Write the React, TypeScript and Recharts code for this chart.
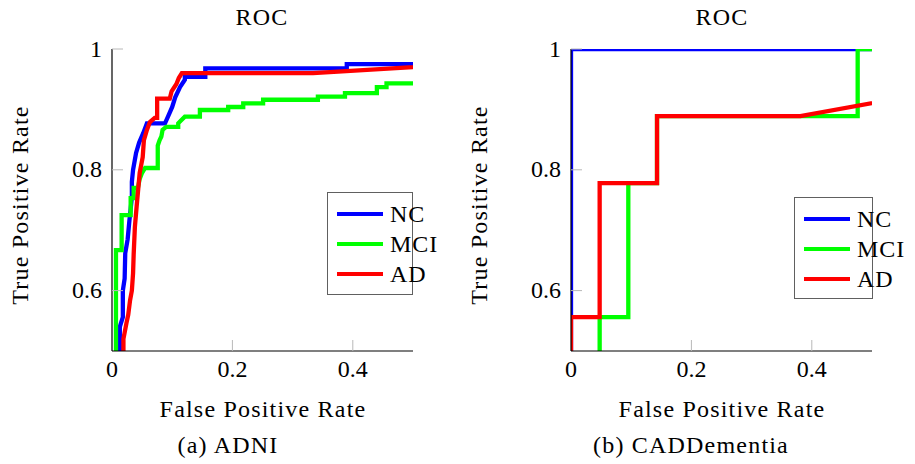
import React from 'react';
import { LineChart, Line, XAxis, YAxis, Legend } from 'recharts';

type Pt = { x: number; y: number };
const toPts = (a: number[][]): Pt[] => a.map(([x, y]) => ({ x, y }));

const seriesNames = ['NC', 'MCI', 'AD'];
const seriesColors = ['#0000ff', '#00ff00', '#ff0000'];
const xTicks = [0, 0.2, 0.4];
const yTicks = [0.6, 0.8, 1];
const chartTitles = ['ROC', 'ROC'];
const captions = ['(a) ADNI', '(b) CADDementia'];
const xLabel = 'False Positive Rate';
const yLabel = 'True Positive Rate';

// ADNI (fpr, tpr)
const adniNC = [
  [0.013, 0.4], [0.013, 0.54], [0.018, 0.556], [0.018, 0.6], [0.021, 0.62], [0.022, 0.662],
  [0.026, 0.685], [0.029, 0.717], [0.031, 0.735], [0.033, 0.755], [0.033, 0.78], [0.035, 0.8],
  [0.04, 0.828], [0.045, 0.845], [0.052, 0.861], [0.058, 0.877], [0.088, 0.877], [0.093, 0.888],
  [0.1, 0.904], [0.105, 0.92], [0.113, 0.937], [0.121, 0.949], [0.121, 0.954], [0.155, 0.954],
  [0.155, 0.968], [0.39, 0.968], [0.39, 0.975], [0.5, 0.975], [1, 1],
];
const adniMCI = [
  [0.0066, 0.4], [0.0066, 0.667], [0.016, 0.667], [0.016, 0.725], [0.031, 0.725], [0.031, 0.753],
  [0.036, 0.753], [0.036, 0.77], [0.043, 0.77], [0.046, 0.785], [0.05, 0.795], [0.055, 0.803],
  [0.076, 0.803], [0.076, 0.84], [0.079, 0.849], [0.082, 0.855], [0.084, 0.866], [0.09, 0.871],
  [0.11, 0.871], [0.11, 0.877], [0.115, 0.882], [0.121, 0.888], [0.146, 0.888], [0.146, 0.899],
  [0.193, 0.899], [0.193, 0.904], [0.218, 0.904], [0.218, 0.91], [0.251, 0.91], [0.251, 0.916],
  [0.342, 0.916], [0.342, 0.921], [0.387, 0.921], [0.387, 0.927], [0.44, 0.927], [0.44, 0.937],
  [0.456, 0.937], [0.456, 0.943], [0.5, 0.943], [1, 1],
];
const adniAD = [
  [0.019, 0.4], [0.019, 0.52], [0.024, 0.546], [0.027, 0.56], [0.03, 0.584], [0.033, 0.6],
  [0.035, 0.629], [0.036, 0.66], [0.038, 0.705], [0.041, 0.74], [0.043, 0.762], [0.046, 0.795],
  [0.051, 0.821], [0.053, 0.849], [0.058, 0.866], [0.063, 0.879], [0.071, 0.886], [0.075, 0.886],
  [0.075, 0.918], [0.096, 0.918], [0.099, 0.93], [0.107, 0.942], [0.111, 0.952], [0.116, 0.96],
  [0.334, 0.96], [1, 1],
];

// CADDementia (fpr, tpr)
const cadNC = [[0, 0], [0, 1], [1, 1]];
const cadMCI = [
  [0, 0], [0, 0.444], [0.0476, 0.444], [0.0476, 0.556], [0.0952, 0.556], [0.0952, 0.778],
  [0.1429, 0.778], [0.1429, 0.889], [0.4762, 0.889], [0.4762, 1], [1, 1],
];
const cadAD = [
  [0, 0], [0, 0.556], [0.0476, 0.556], [0.0476, 0.778], [0.1429, 0.778], [0.1429, 0.889],
  [0.381, 0.889], [1, 1],
];

const FONT = "'Liberation Serif', 'DejaVu Serif', serif";
const FS = 24;
const W = 457;
const H = 464;
const margin = { top: 49, right: 44, left: 52, bottom: 83 };

const fmt = (v: number) => (v === 0 ? '0' : v === 1 ? '1' : String(v));

const YTick = (props: any) => {
  const { x, y, payload } = props;
  return (
    <g>
      <line x1={x} x2={x + 11} y1={y} y2={y} stroke="#b8b8b8" strokeWidth={1} />
      <text x={x - 10} y={y + 7.5} textAnchor="end" style={{ fontFamily: FONT, fontSize: FS }} fill="#000">
        {fmt(payload.value)}
      </text>
    </g>
  );
};

const XTick = (props: any) => {
  const { x, y, payload } = props;
  return (
    <g>
      {payload.value !== 0 && <line x1={x} x2={x} y1={y} y2={y - 11} stroke="#b8b8b8" strokeWidth={1} />}
      <text x={x} y={y + 26} textAnchor="middle" style={{ fontFamily: FONT, fontSize: FS }} fill="#000">
        {fmt(payload.value)}
      </text>
    </g>
  );
};

const makeLegend = (w: number, h: number) => (props: any) => {
  const raw = props.payload || [];
  const payload = seriesNames
    .map((n) => raw.find((p: any) => p.value === n))
    .filter(Boolean);
  return (
    <div
      style={{
        width: w,
        height: h,
        boxSizing: 'border-box',
        border: '1.3px solid #606060',
        background: '#fff',
        position: 'relative',
        fontFamily: FONT,
        fontSize: FS,
      }}
    >
      {payload.map((p: any, i: number) => (
        <React.Fragment key={p.value}>
          <div
            style={{
              position: 'absolute',
              left: 9,
              top: 19 + 30 * i,
              width: 46,
              height: 4,
              background: p.color,
            }}
          />
          <div
            style={{
              position: 'absolute',
              left: 62,
              top: 21 + 30 * i - 12.5,
              lineHeight: '24px',
              whiteSpace: 'nowrap',
              color: '#000',
              letterSpacing: 1,
            }}
          >
            {p.value}
          </div>
        </React.Fragment>
      ))}
    </div>
  );
};

type ChartProps = {
  series: number[][][];
  legendPos: { left: number; top: number; w: number; h: number };
};

const RocChart = ({ series, legendPos }: ChartProps) => (
  <LineChart width={W} height={H} margin={margin}>
    <XAxis
      type="number"
      dataKey="x"
      domain={[0, 0.5]}
      allowDataOverflow
      ticks={xTicks}
      interval={0}
      tickSize={0}
      tickMargin={0}
      tick={<XTick />}
      axisLine={{ stroke: '#000', strokeWidth: 1.2 }}
      tickLine={false}
      height={30}
    />
    <YAxis
      type="number"
      dataKey="y"
      domain={[0.5, 1]}
      allowDataOverflow
      ticks={yTicks}
      interval={0}
      tickSize={0}
      tickMargin={0}
      tick={<YTick />}
      axisLine={{ stroke: '#000', strokeWidth: 1.2 }}
      tickLine={false}
      width={60}
    />
    {series.map((s, i) => (
      <Line
        key={seriesNames[i]}
        name={seriesNames[i]}
        data={toPts(s)}
        dataKey="y"
        type="linear"
        stroke={seriesColors[i]}
        strokeWidth={4.3}
        dot={false}
        activeDot={false}
        isAnimationActive={false}
      />
    ))}
    <Legend
      layout="vertical"
      align="center"
      verticalAlign="middle"
      itemSorter={null as any}
      wrapperStyle={{ left: legendPos.left, top: legendPos.top, width: legendPos.w, height: legendPos.h }}
      content={makeLegend(legendPos.w, legendPos.h)}
    />
  </LineChart>
);

const textStyle = { fontFamily: FONT, fontSize: FS, letterSpacing: 1.2 } as const;

export default function App() {
  return (
    <div style={{ position: 'absolute', left: 0, top: 0, width: 915, height: 464, background: '#fff', fontFamily: FONT }}>
      <div style={{ position: 'absolute', left: 0, top: 0 }}>
        <RocChart series={[adniNC, adniMCI, adniAD]} legendPos={{ left: 327, top: 192, w: 86, h: 103 }} />
      </div>
      <div style={{ position: 'absolute', left: 459, top: 0 }}>
        <RocChart series={[cadNC, cadMCI, cadAD]} legendPos={{ left: 335, top: 197, w: 79, h: 102 }} />
      </div>
      <svg width={915} height={464} style={{ position: 'absolute', left: 0, top: 0, pointerEvents: 'none' }}>
        <text x={262} y={25} textAnchor="middle" fill="#000" style={textStyle}>{chartTitles[0]}</text>
        <text x={722} y={25} textAnchor="middle" fill="#000" style={textStyle}>{chartTitles[1]}</text>
        <text x={263} y={417} textAnchor="middle" fill="#000" style={textStyle}>{xLabel}</text>
        <text x={722} y={417} textAnchor="middle" fill="#000" style={textStyle}>{xLabel}</text>
        <text x={228} y={453} textAnchor="middle" fill="#000" style={textStyle}>{captions[0]}</text>
        <text x={691} y={453} textAnchor="middle" fill="#000" style={textStyle}>{captions[1]}</text>
        <text transform="translate(28,205) rotate(-90)" textAnchor="middle" fill="#000" style={textStyle}>{yLabel}</text>
        <text transform="translate(487,205) rotate(-90)" textAnchor="middle" fill="#000" style={textStyle}>{yLabel}</text>
      </svg>
    </div>
  );
}
